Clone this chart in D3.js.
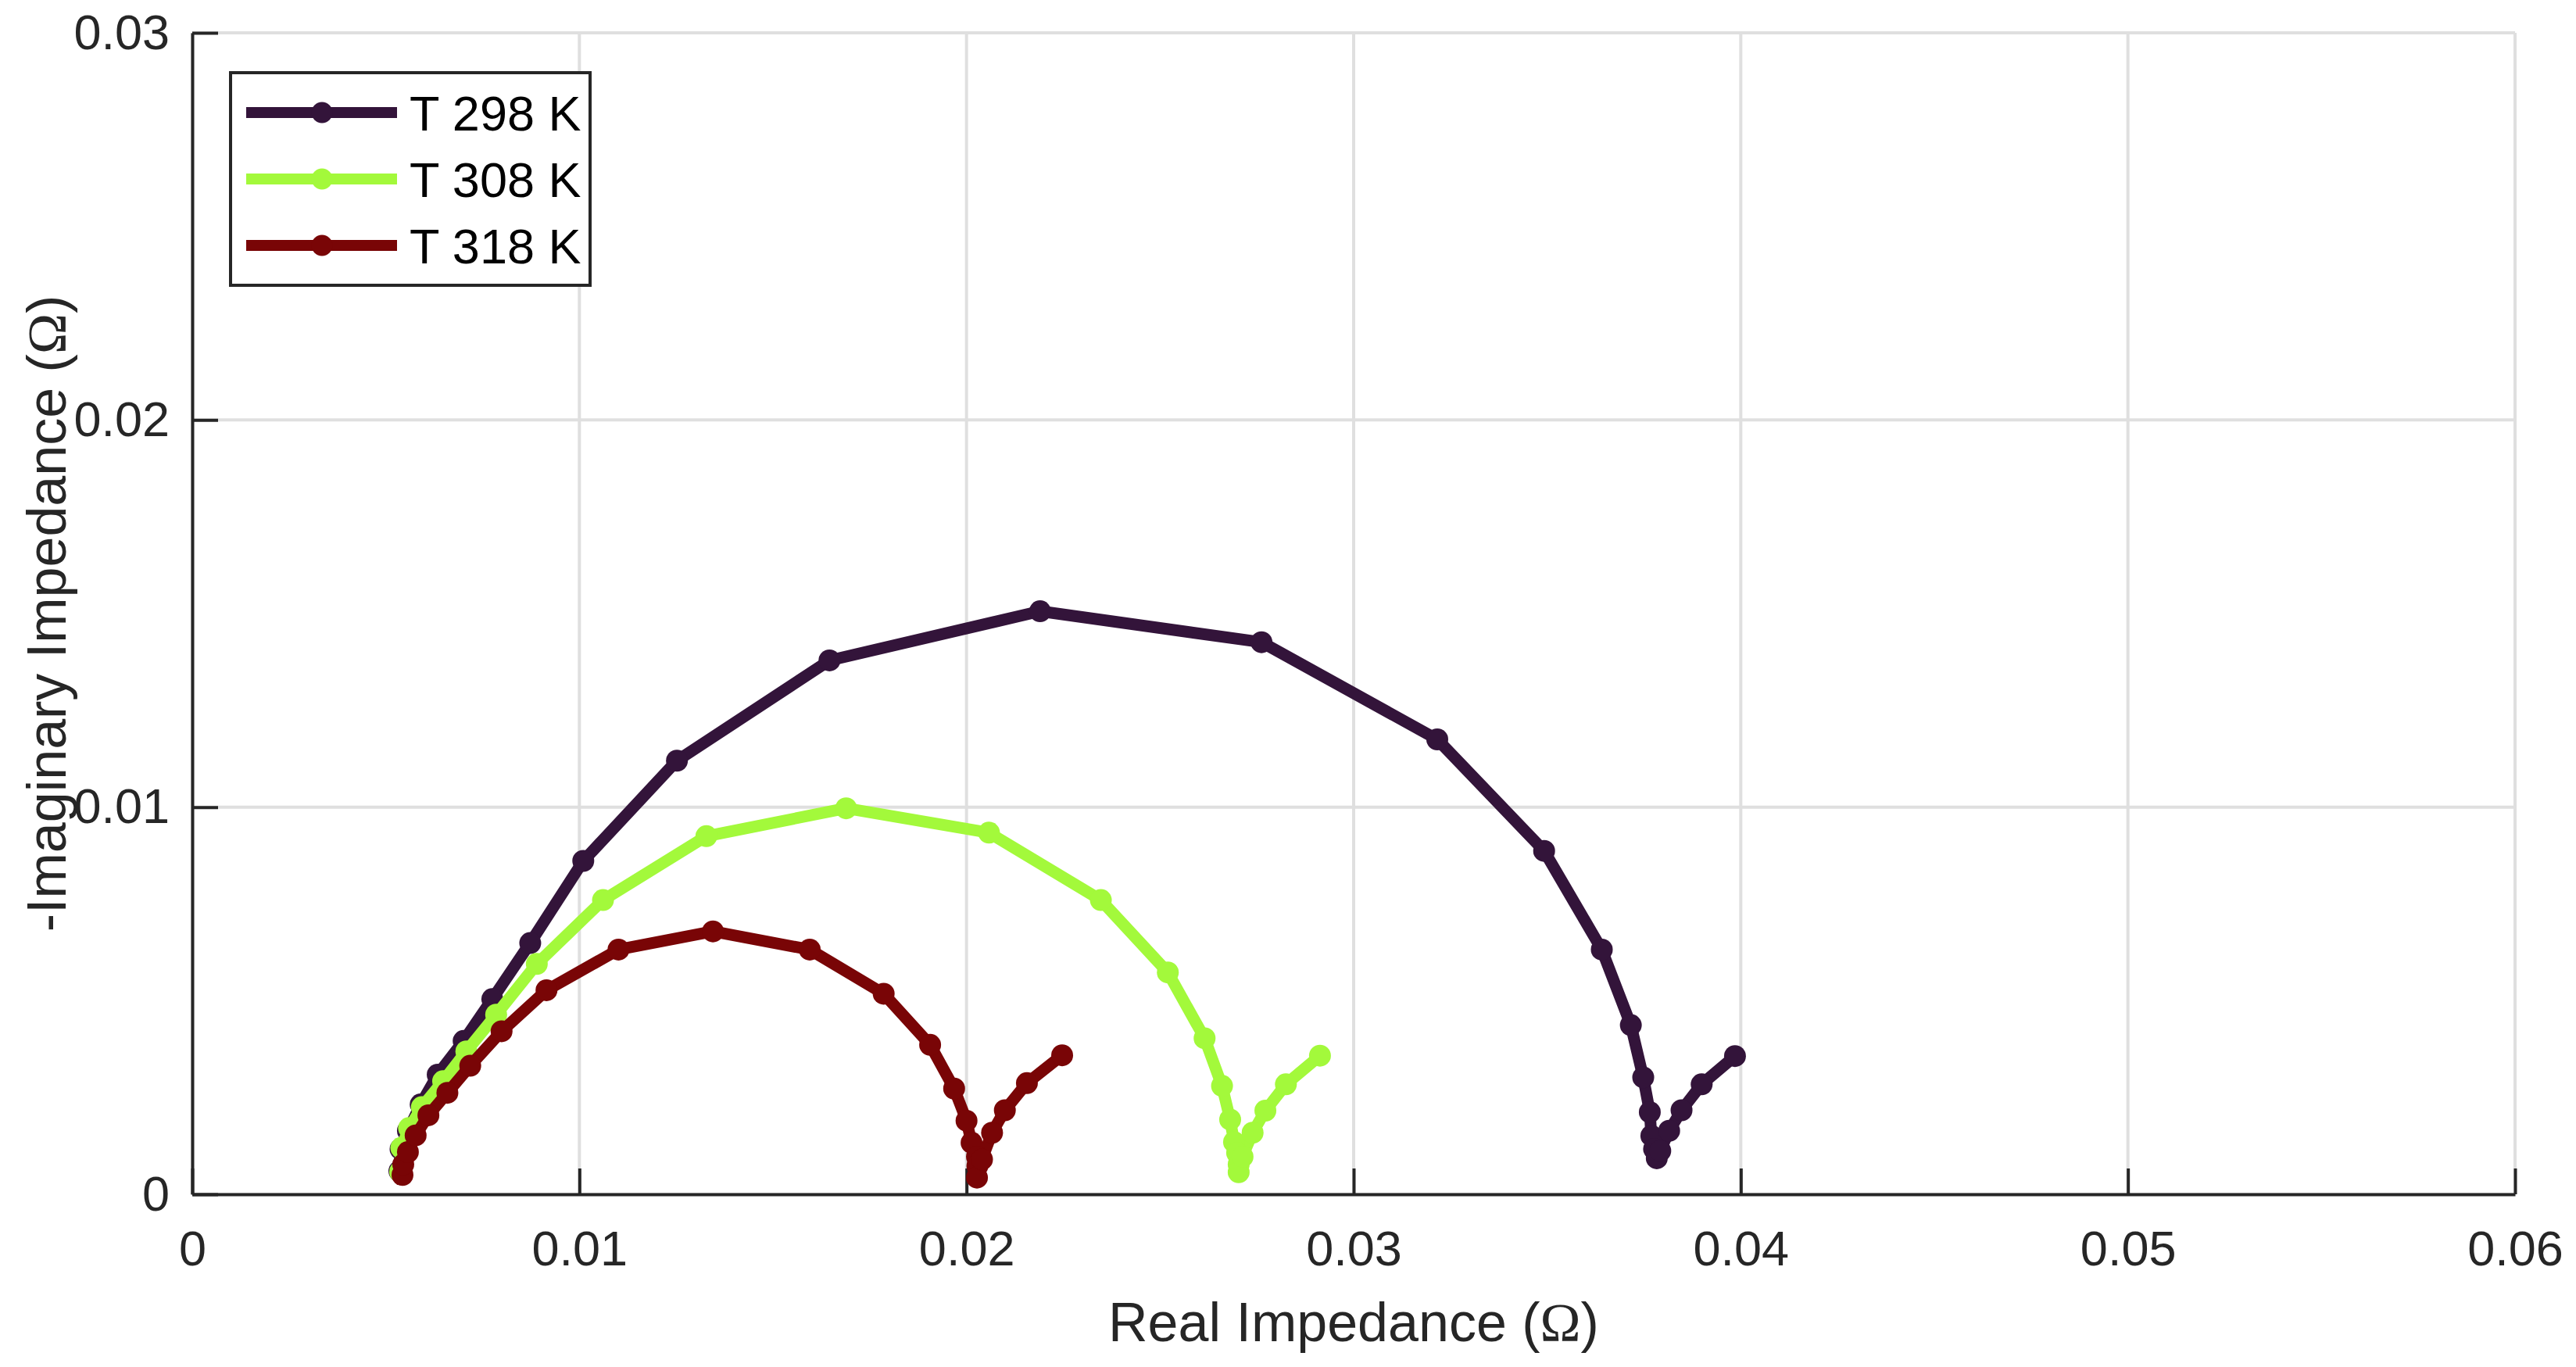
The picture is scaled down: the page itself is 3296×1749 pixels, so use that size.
<!DOCTYPE html>
<html>
<head>
<meta charset="utf-8">
<script src="https://cdn.jsdelivr.net/npm/d3@7"></script>
<style>
  body { margin: 0; background: #fff; }
  text { font-family: "Liberation Sans", Arial, Helvetica, sans-serif; fill: #262626; }
</style>
</head>
<body>
<div id="chart"></div>
<script>
  // series: real / -imaginary impedance (ohm)
  var seriesNames = ["T 298 K", "T 308 K", "T 318 K"];
  var seriesColors = ["#33143a", "#a3f93b", "#790506"];

  var real298 = [0.00535, 0.00538, 0.00557, 0.00590, 0.00634, 0.00701, 0.00775, 0.00873, 0.01010, 0.01252, 0.01646, 0.02190, 0.02762, 0.03216, 0.03492, 0.03641, 0.03716, 0.03748, 0.03765, 0.03769, 0.03776, 0.03783, 0.03792, 0.03815, 0.03847, 0.03899, 0.03985];
  var imag298 = [0.00060, 0.00117, 0.00164, 0.00232, 0.00309, 0.00396, 0.00504, 0.00649, 0.00861, 0.01120, 0.01379, 0.01506, 0.01426, 0.01175, 0.00887, 0.00632, 0.00437, 0.00302, 0.00212, 0.00151, 0.00117, 0.00093, 0.00112, 0.00164, 0.00217, 0.00284, 0.00357];

  var real308 = [0.00537, 0.00540, 0.00560, 0.00593, 0.00648, 0.00708, 0.00785, 0.00890, 0.01061, 0.01328, 0.01689, 0.02058, 0.02347, 0.02520, 0.02615, 0.02660, 0.02681, 0.02691, 0.02699, 0.02703, 0.02703, 0.02713, 0.02739, 0.02772, 0.02825, 0.02913];
  var imag308 = [0.00058, 0.00120, 0.00171, 0.00225, 0.00292, 0.00369, 0.00464, 0.00595, 0.00760, 0.00925, 0.00997, 0.00934, 0.00760, 0.00573, 0.00403, 0.00280, 0.00193, 0.00135, 0.00107, 0.00077, 0.00057, 0.00097, 0.00159, 0.00216, 0.00284, 0.00358];

  var real318 = [0.00543, 0.00545, 0.00557, 0.00577, 0.00610, 0.00659, 0.00718, 0.00799, 0.00915, 0.01101, 0.01345, 0.01595, 0.01786, 0.01906, 0.01968, 0.02000, 0.02013, 0.02027, 0.02028, 0.02027, 0.02040, 0.02066, 0.02099, 0.02156, 0.02247];
  var imag318 = [0.00050, 0.00077, 0.00109, 0.00152, 0.00204, 0.00262, 0.00332, 0.00421, 0.00527, 0.00632, 0.00679, 0.00632, 0.00518, 0.00386, 0.00273, 0.00190, 0.00133, 0.00097, 0.00073, 0.00043, 0.00090, 0.00159, 0.00217, 0.00287, 0.00359];

  var xTicks = [0, 0.01, 0.02, 0.03, 0.04, 0.05, 0.06];
  var yTicks = [0, 0.01, 0.02, 0.03];

  var width = 3296,
      height = 1749;

  var svg = d3.select("#chart")
    .append("svg")
      .attr("width", width)
      .attr("height", height);

  var x = d3.scaleLinear().domain([0, 0.06]).range([246, 3218]);
  var y = d3.scaleLinear().domain([0, 0.03]).range([1528, 42]);

  var fmt = function(d) { return d === 0 ? "0" : d3.format(".2f")(d).replace(/0$/, ""); };

  // grid
  svg.selectAll(".gx")
    .data(xTicks)
  .enter().append("line")
    .attr("x1", function(d) { return x(d); })
    .attr("x2", function(d) { return x(d); })
    .attr("y1", y(0))
    .attr("y2", y(0.03))
    .attr("stroke", "#dfdfdf")
    .attr("stroke-width", 4);

  svg.selectAll(".gy")
    .data(yTicks)
  .enter().append("line")
    .attr("x1", x(0))
    .attr("x2", x(0.06))
    .attr("y1", function(d) { return y(d); })
    .attr("y2", function(d) { return y(d); })
    .attr("stroke", "#dfdfdf")
    .attr("stroke-width", 4);

  // axes (ticks pointing inward)
  var xAxis = svg.append("g")
    .attr("transform", "translate(0," + y(0) + ")")
    .call(d3.axisBottom(x).tickValues(xTicks).tickFormat(fmt).tickSizeInner(-33).tickSizeOuter(0).tickPadding(46));
  var yAxis = svg.append("g")
    .attr("transform", "translate(" + x(0) + ",0)")
    .call(d3.axisLeft(y).tickValues(yTicks).tickFormat(fmt).tickSizeInner(-33).tickSizeOuter(0).tickPadding(29));

  [xAxis, yAxis].forEach(function(a) {
    a.select(".domain").attr("stroke", "#262626").attr("stroke-width", 4);
    a.selectAll(".tick line").attr("stroke", "#262626").attr("stroke-width", 4);
    a.selectAll(".tick text").attr("font-size", 63).attr("fill", "#262626")
      .attr("font-family", "Liberation Sans, Arial, sans-serif");
  });

  // series
  var series = [
    { name: seriesNames[0], color: seriesColors[0], xs: real298, ys: imag298 },
    { name: seriesNames[1], color: seriesColors[1], xs: real308, ys: imag308 },
    { name: seriesNames[2], color: seriesColors[2], xs: real318, ys: imag318 }
  ];

  var line = d3.line()
    .x(function(d) { return x(d[0]); })
    .y(function(d) { return y(d[1]); });

  series.forEach(function(s) {
    var pts = s.xs.map(function(v, i) { return [v, s.ys[i]]; });
    svg.append("path")
      .datum(pts)
      .attr("d", line)
      .attr("fill", "none")
      .attr("stroke", s.color)
      .attr("stroke-width", 15)
      .attr("stroke-linejoin", "round");
    svg.selectAll(null)
      .data(pts)
    .enter().append("circle")
      .attr("cx", function(d) { return x(d[0]); })
      .attr("cy", function(d) { return y(d[1]); })
      .attr("r", 14)
      .attr("fill", s.color);
  });

  // axis titles
  var xt = svg.append("text")
    .attr("x", (x(0) + x(0.06)) / 2)
    .attr("y", 1716)
    .attr("text-anchor", "middle")
    .attr("font-size", 70);
  xt.append("tspan").text("Real Impedance (");
  xt.append("tspan").attr("font-family", "Liberation Serif, serif").text("Ω");
  xt.append("tspan").text(")");

  var yt = svg.append("text")
    .attr("transform", "translate(84," + ((y(0) + y(0.03)) / 2) + ") rotate(-90)")
    .attr("text-anchor", "middle")
    .attr("font-size", 70);
  yt.append("tspan").text("-Imaginary Impedance (");
  yt.append("tspan").attr("font-family", "Liberation Serif, serif").text("Ω");
  yt.append("tspan").text(")");

  // legend
  var legend = svg.append("g");
  legend.append("rect")
    .attr("x", 295)
    .attr("y", 93)
    .attr("width", 460)
    .attr("height", 272)
    .attr("fill", "#fff")
    .attr("stroke", "#262626")
    .attr("stroke-width", 4);

  series.forEach(function(s, i) {
    var ly = 144 + i * 85;
    legend.append("line")
      .attr("x1", 315).attr("x2", 508)
      .attr("y1", ly).attr("y2", ly)
      .attr("stroke", s.color)
      .attr("stroke-width", 14);
    legend.append("circle")
      .attr("cx", 412).attr("cy", ly)
      .attr("r", 13.5)
      .attr("fill", s.color);
    legend.append("text")
      .attr("x", 524)
      .attr("y", ly + 23)
      .attr("font-size", 63)
      .style("fill", "#000")
      .text(s.name);
  });
</script>
</body>
</html>
